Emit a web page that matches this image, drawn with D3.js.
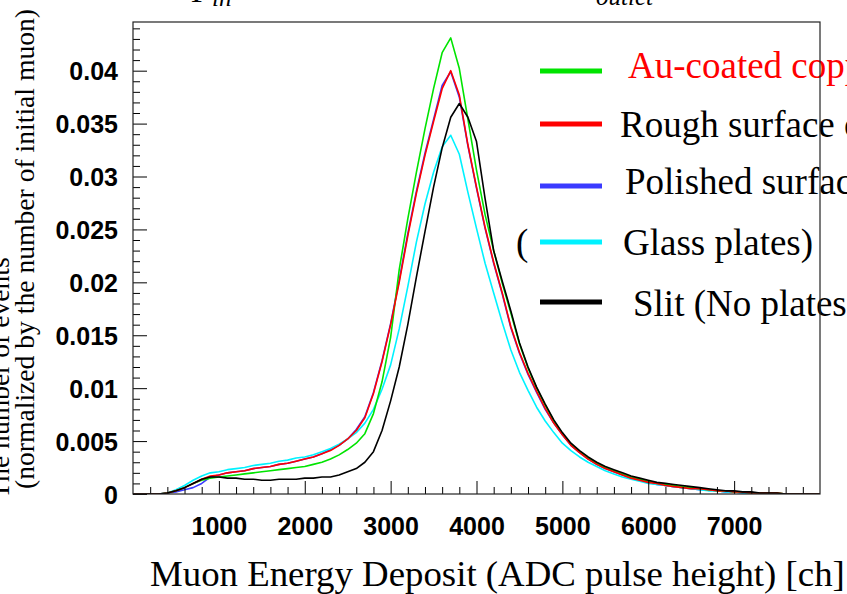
<!DOCTYPE html>
<html>
<head>
<meta charset="utf-8">
<script src="https://cdn.jsdelivr.net/npm/d3@7"></script>
<style>
  body { margin: 0; background: #fff; }
  svg { display: block; }
</style>
</head>
<body>
<svg id="chart" width="847" height="594"></svg>
<script>
// ADC channel of each histogram sample [ch]
const channels = [
  0, 100, 200, 300, 400, 500, 600, 700, 800, 900,
  1000, 1100, 1200, 1300, 1400, 1500, 1600, 1700, 1800, 1900,
  2000, 2100, 2200, 2300, 2400, 2500, 2600, 2700, 2800, 2900,
  3000, 3100, 3200, 3300, 3400, 3500, 3600, 3700, 3800, 3900,
  4000, 4100, 4200, 4300, 4400, 4500, 4600, 4700, 4800, 4900,
  5000, 5100, 5200, 5300, 5400, 5500, 5600, 5700, 5800, 5900,
  6000, 6100, 6200, 6300, 6400, 6500, 6600, 6700, 6800, 6900,
  7000, 7100, 7200, 7300, 7400, 7500, 7600, 7700, 7800, 7900, 8000
];

// Normalized number of events per channel, one array per configuration
const auCoated = [
  0, 0, 0, 0, 0.0001, 0.0003, 0.0006, 0.0010, 0.0013, 0.0015,
  0.0016, 0.0017, 0.0018, 0.0019, 0.0020, 0.0021, 0.0022, 0.0023, 0.0024, 0.0025,
  0.0026, 0.0028, 0.0030, 0.0033, 0.0037, 0.0042, 0.0048, 0.0057, 0.0076, 0.0106,
  0.0148, 0.0212, 0.0260, 0.0304, 0.0345, 0.0383, 0.0417, 0.0431, 0.0402, 0.0354,
  0.0306, 0.0264, 0.0230, 0.0199, 0.0171, 0.0142, 0.0119, 0.0100, 0.0084, 0.0069,
  0.0057, 0.0047, 0.0040, 0.0034, 0.0029, 0.0025, 0.0022, 0.0019, 0.0016, 0.0014,
  0.0012, 0.0010, 0.0009, 0.0008, 0.0007, 0.0006, 0.0005, 0.0004, 0.0003, 0.0003,
  0.0002, 0.0002, 0.0001, 0.0001, 0.0001, 0.0001, 0, 0, 0, 0, 0
];
const roughSurface = [
  0, 0, 0, 0, 0.0001, 0.0003, 0.0006, 0.0010, 0.0014, 0.0017,
  0.0018, 0.0020, 0.0021, 0.0022, 0.0024, 0.0025, 0.0026, 0.0028, 0.0029, 0.0031,
  0.0033, 0.0035, 0.0038, 0.0041, 0.0046, 0.0052, 0.0060, 0.0072, 0.0095, 0.0125,
  0.0160, 0.0200, 0.0244, 0.0284, 0.0320, 0.0352, 0.0383, 0.0400, 0.0377, 0.0330,
  0.0290, 0.0252, 0.0219, 0.0190, 0.0158, 0.0134, 0.0114, 0.0097, 0.0081, 0.0067,
  0.0056, 0.0046, 0.0039, 0.0033, 0.0028, 0.0024, 0.0021, 0.0018, 0.0015, 0.0013,
  0.0011, 0.0010, 0.0008, 0.0007, 0.0006, 0.0005, 0.0005, 0.0004, 0.0003, 0.0003,
  0.0002, 0.0002, 0.0001, 0.0001, 0.0001, 0.0001, 0, 0, 0, 0, 0
];
const polishedSurface = [
  0, 0, 0, 0, 0.0001, 0.0002, 0.0004, 0.0006, 0.0010, 0.0016,
  0.0018, 0.0020, 0.0021, 0.0022, 0.0024, 0.0025, 0.0026, 0.0028, 0.0029, 0.0031,
  0.0033, 0.0035, 0.0038, 0.0042, 0.0046, 0.0052, 0.0061, 0.0073, 0.0096, 0.0126,
  0.0161, 0.0202, 0.0246, 0.0286, 0.0322, 0.0354, 0.0386, 0.0399, 0.0375, 0.0329,
  0.0289, 0.0251, 0.0218, 0.0189, 0.0157, 0.0133, 0.0113, 0.0096, 0.0080, 0.0067,
  0.0056, 0.0046, 0.0039, 0.0033, 0.0028, 0.0024, 0.0021, 0.0018, 0.0015, 0.0013,
  0.0011, 0.0009, 0.0008, 0.0007, 0.0006, 0.0005, 0.0004, 0.0004, 0.0003, 0.0002,
  0.0002, 0.0001, 0.0001, 0.0001, 0.0001, 0, 0, 0, 0, 0, 0
];
const glassPlates = [
  0, 0, 0, 0, 0.0001, 0.0004, 0.0008, 0.0013, 0.0017, 0.0020,
  0.0021, 0.0023, 0.0024, 0.0025, 0.0027, 0.0028, 0.0029, 0.0031, 0.0032, 0.0034,
  0.0035, 0.0037, 0.0040, 0.0043, 0.0047, 0.0052, 0.0058, 0.0067, 0.0080, 0.0099,
  0.0122, 0.0156, 0.0196, 0.0238, 0.0274, 0.0304, 0.0328, 0.0339, 0.0321, 0.0285,
  0.0251, 0.0218, 0.0190, 0.0162, 0.0136, 0.0115, 0.0098, 0.0082, 0.0069, 0.0058,
  0.0048, 0.0041, 0.0035, 0.0030, 0.0026, 0.0022, 0.0019, 0.0016, 0.0014, 0.0012,
  0.0010, 0.0009, 0.0008, 0.0007, 0.0006, 0.0005, 0.0004, 0.0003, 0.0003, 0.0002,
  0.0002, 0.0001, 0.0001, 0.0001, 0, 0, 0, 0, 0, 0, 0
];
const slitNoPlates = [
  0, 0, 0, 0, 0.0001, 0.0003, 0.0006, 0.0010, 0.0014, 0.0016,
  0.0016, 0.0015, 0.0015, 0.0014, 0.0014, 0.0013, 0.0013, 0.0014, 0.0014, 0.0014,
  0.0015, 0.0015, 0.0016, 0.0016, 0.0018, 0.0021, 0.0024, 0.0030, 0.0040, 0.0060,
  0.0088, 0.0120, 0.0160, 0.0205, 0.0248, 0.0290, 0.0327, 0.0356, 0.0369, 0.0356,
  0.0333, 0.0279, 0.0230, 0.0201, 0.0173, 0.0143, 0.0120, 0.0101, 0.0085, 0.0070,
  0.0058, 0.0048, 0.0041, 0.0035, 0.0030, 0.0026, 0.0023, 0.0020, 0.0017, 0.0015,
  0.0013, 0.0011, 0.0010, 0.0009, 0.0008, 0.0007, 0.0006, 0.0005, 0.0004, 0.0003,
  0.0003, 0.0002, 0.0002, 0.0001, 0.0001, 0.0001, 0, 0, 0, 0, 0
];

// Axis ticks
const xMajorTicks = [1000, 2000, 3000, 4000, 5000, 6000, 7000];
const xTickLabels = ["1000", "2000", "3000", "4000", "5000", "6000", "7000"];
const yMajorTicks = [0, 0.005, 0.01, 0.015, 0.02, 0.025, 0.03, 0.035, 0.04];
const yTickLabels = ["0", "0.005", "0.01", "0.015", "0.02", "0.025", "0.03", "0.035", "0.04"];

// Legend entries (drawn top to bottom)
const legendLabels = [
  "Au-coated copper plates",
  "Rough surface copper plates",
  "Polished surface copper plates",
  "Glass plates)",
  "Slit (No plates)"
];
const seriesColors = ["#00e400", "#ff0000", "#3a3aff", "#00f2ff", "#000000"];

const plot = { left: 133, right: 820, top: 22, bottom: 494 };

const svg = d3.select("#chart");

const x = d3.scaleLinear().domain([0, 8000]).range([plot.left, plot.right]);
const y = d3.scaleLinear().domain([0, 0.0446]).range([plot.bottom, plot.top]);

const sansBold = "'Liberation Sans', Arial, Helvetica, sans-serif";
const serif = "'Liberation Serif', 'Times New Roman', Times, serif";

// Text fitted to a given width
function fitText(sel, width) {
  const node = sel.node();
  const fs = parseFloat(sel.attr("font-size"));
  const len = node.getComputedTextLength();
  sel.attr("font-size", (fs * width / len).toFixed(2));
}

// ---- clipped upper formula text (P_in ... P_outlet)
const formula = svg.append("g").attr("font-family", serif).attr("font-style", "italic").attr("fill", "#000");
formula.append("text").attr("x", 192).attr("y", 2).attr("font-size", 34).text("P");
formula.append("text").attr("x", 212).attr("y", 6).attr("font-size", 25).text("in");
formula.append("text").attr("x", 596).attr("y", 5).attr("font-size", 25).text("outlet");

// ---- curves
const series = [
  { name: legendLabels[2], values: polishedSurface, color: seriesColors[2] },
  { name: legendLabels[3], values: glassPlates, color: seriesColors[3] },
  { name: legendLabels[0], values: auCoated, color: seriesColors[0] },
  { name: legendLabels[1], values: roughSurface, color: seriesColors[1] },
  { name: legendLabels[4], values: slitNoPlates, color: seriesColors[4] }
];

svg.append("clipPath").attr("id", "plot-clip")
  .append("rect")
  .attr("x", plot.left).attr("y", plot.top)
  .attr("width", plot.right - plot.left).attr("height", plot.bottom - plot.top);

const line = d3.line()
  .x((d, i) => x(channels[i]))
  .y(d => y(d));

svg.append("g").attr("clip-path", "url(#plot-clip)")
  .selectAll("path")
  .data(series)
  .join("path")
  .attr("fill", "none")
  .attr("stroke", d => d.color)
  .attr("stroke-width", 1.6)
  .attr("stroke-linejoin", "round")
  .attr("d", d => line(d.values));

// ---- axes
const xMinor = d3.range(200, 8000, 200).filter(v => v % 1000 !== 0);
const yMinor = d3.range(1, 45).map(v => v / 1000).filter(v => Math.round(v * 1000) % 5 !== 0);

const xAxis = svg.append("g")
  .attr("transform", `translate(0,${plot.bottom})`)
  .call(d3.axisBottom(x).tickValues(xMajorTicks).tickSize(-13).tickPadding(23)
    .tickFormat((d, i) => xTickLabels[i]));
svg.append("g")
  .attr("transform", `translate(0,${plot.bottom})`)
  .call(d3.axisBottom(x).tickValues(xMinor).tickSize(-7).tickFormat(""));

const yAxis = svg.append("g")
  .attr("transform", `translate(${plot.left},0)`)
  .call(d3.axisLeft(y).tickValues(yMajorTicks).tickSize(-14).tickPadding(15)
    .tickFormat((d, i) => yTickLabels[i]));
svg.append("g")
  .attr("transform", `translate(${plot.left},0)`)
  .call(d3.axisLeft(y).tickValues(yMinor).tickSize(-7).tickFormat(""));

svg.selectAll(".domain").remove();
svg.selectAll(".tick line").attr("stroke", "#000").attr("stroke-width", 1);
xAxis.selectAll(".tick text")
  .attr("font-family", sansBold).attr("font-weight", "bold").attr("font-size", 25).attr("fill", "#000");
yAxis.selectAll(".tick text")
  .attr("font-family", sansBold).attr("font-weight", "bold").attr("font-size", 25).attr("fill", "#000")
  .attr("dy", "0.36em");

// ---- axis titles
const xTitle = svg.append("text")
  .attr("x", 150).attr("y", 586)
  .attr("font-family", serif).attr("font-size", 34).attr("fill", "#000")
  .text("Muon Energy Deposit (ADC pulse height) [ch]");
fitText(xTitle, 695);

const yTitle2 = svg.append("text")
  .attr("transform", "translate(34,249) rotate(-90)")
  .attr("text-anchor", "middle")
  .attr("font-family", serif).attr("font-size", 20).attr("fill", "#000")
  .text("(normalized by the number of initial muon)");
fitText(yTitle2, 480);
svg.append("text")
  .attr("transform", "translate(9,378) rotate(-90)")
  .attr("text-anchor", "middle")
  .attr("font-family", serif).attr("font-size", yTitle2.attr("font-size")).attr("fill", "#000")
  .text("The number of events");

// ---- legend
const legendRows = [
  { lineY: 71, textX: 628, baseY: 78, color: seriesColors[0], textColor: "#ff0000" },
  { lineY: 124, textX: 620, baseY: 137, color: seriesColors[1], textColor: "#000" },
  { lineY: 186, textX: 625, baseY: 194, color: seriesColors[2], textColor: "#000" },
  { lineY: 242, textX: 623, baseY: 255, color: seriesColors[3], textColor: "#000" },
  { lineY: 302, textX: 633, baseY: 316, color: seriesColors[4], textColor: "#000" }
];
const legend = svg.append("g");
legend.selectAll("line")
  .data(legendRows)
  .join("line")
  .attr("x1", 540).attr("x2", 602)
  .attr("y1", d => d.lineY).attr("y2", d => d.lineY)
  .attr("stroke", d => d.color).attr("stroke-width", 5);
legend.selectAll("text.lab")
  .data(legendRows)
  .join("text")
  .attr("class", "lab")
  .attr("x", d => d.textX).attr("y", d => d.baseY)
  .attr("font-family", serif).attr("font-size", 37)
  .attr("fill", d => d.textColor)
  .text((d, i) => legendLabels[i]);
legend.append("text")
  .attr("x", 516).attr("y", 255)
  .attr("font-family", serif).attr("font-size", 37).attr("fill", "#000")
  .text("(");

// ---- frame
svg.append("rect")
  .attr("x", plot.left).attr("y", plot.top)
  .attr("width", plot.right - plot.left).attr("height", plot.bottom - plot.top)
  .attr("fill", "none").attr("stroke", "#222").attr("stroke-width", 1.2);
</script>
</body>
</html>
